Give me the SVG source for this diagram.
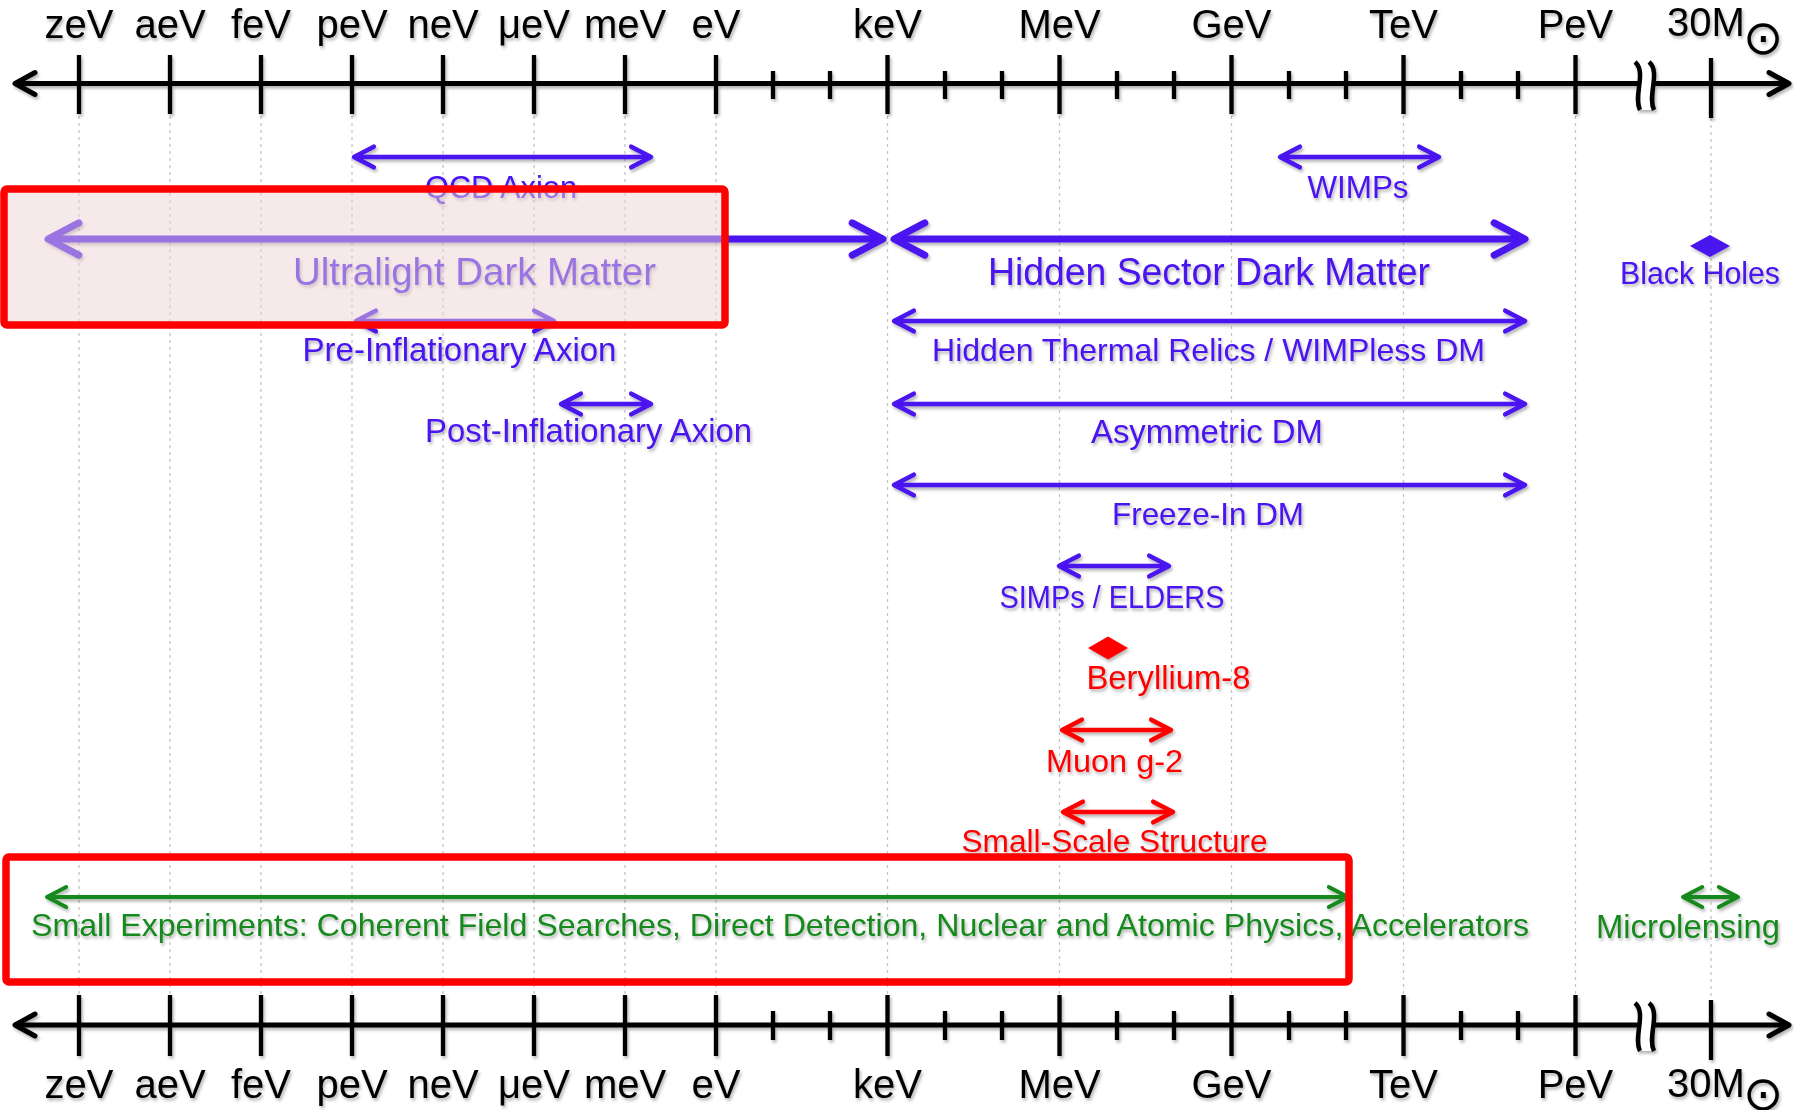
<svg xmlns="http://www.w3.org/2000/svg" width="1794" height="1110" viewBox="0 0 1794 1110">
<defs>
<style>
.grid{stroke:#c4c4c4;stroke-width:1.3;stroke-dasharray:3 4;fill:none}
.ax{stroke:#000;stroke-width:5;fill:none;marker-start:url(#hK);marker-end:url(#hK)}
.tk{stroke:#000;stroke-width:4.3;fill:none}
.brk{fill:none;stroke:#000;stroke-width:4.5}
.al{font-family:"Liberation Sans",Arial,sans-serif;font-size:40px;fill:#000;text-anchor:middle}
.sun{font-family:"DejaVu Sans",sans-serif;font-size:48px}
.t{font-family:"Liberation Sans",Arial,sans-serif;text-anchor:middle}
.tb{fill:#4a12f0}
.tr{fill:#ff0000}
.tg{fill:#17891f}
.aB{stroke:#4a12f0;stroke-width:4.5;fill:none;marker-start:url(#hB);marker-end:url(#hB)}
.aBT{stroke:#4a12f0;stroke-width:7;fill:none;marker-start:url(#hB);marker-end:url(#hB)}
.aR{stroke:#ff0000;stroke-width:4.5;fill:none;marker-start:url(#hR);marker-end:url(#hR)}
.aG{stroke:#17891f;stroke-width:4;fill:none;marker-start:url(#hG);marker-end:url(#hG)}
.sh{filter:url(#shadow)}
.box{stroke:#ff0000;stroke-width:7.5;}
</style>
<filter id="shadow" x="-5%" y="-30%" width="110%" height="170%">
<feDropShadow dx="1.5" dy="2.5" stdDeviation="1.5" flood-color="#000" flood-opacity="0.3"/>
</filter>
<marker id="hB" viewBox="-6 -4 8 8" refX="0" refY="0" markerWidth="8" markerHeight="8" markerUnits="strokeWidth" orient="auto-start-reverse"><path d="M-4.4,-2.3 L0,0 L-4.4,2.3" fill="none" stroke="#4a12f0" stroke-width="1" stroke-linecap="round" stroke-linejoin="round"/></marker>
<marker id="hR" viewBox="-6 -4 8 8" refX="0" refY="0" markerWidth="8" markerHeight="8" markerUnits="strokeWidth" orient="auto-start-reverse"><path d="M-4.4,-2.3 L0,0 L-4.4,2.3" fill="none" stroke="#ff0000" stroke-width="1" stroke-linecap="round" stroke-linejoin="round"/></marker>
<marker id="hG" viewBox="-6 -4 8 8" refX="0" refY="0" markerWidth="8" markerHeight="8" markerUnits="strokeWidth" orient="auto-start-reverse"><path d="M-4.8,-2.5 L0,0 L-4.8,2.5" fill="none" stroke="#17891f" stroke-width="1" stroke-linecap="round" stroke-linejoin="round"/></marker>
<marker id="hK" viewBox="-6 -4 8 8" refX="0" refY="0" markerWidth="8" markerHeight="8" markerUnits="strokeWidth" orient="auto-start-reverse"><path d="M-4,-2.2 L0,0 L-4,2.2" fill="none" stroke="#000" stroke-width="1" stroke-linecap="round" stroke-linejoin="round"/></marker>
</defs>
<rect width="1794" height="1110" fill="#fff"/>

<g id="grid">
<path class="grid" d="M79,116V995M170,116V995M261,116V995M352,116V995M443,116V995M534,116V995M625,116V995M716,116V995M887.5,116V995M1059.5,116V995M1231.5,116V995M1403.5,116V995M1575.5,116V995M1711,118V998"/>
</g>

<g id="axis-top" class="sh">
<line class="ax" x1="15" y1="83.5" x2="1789" y2="83.5"/>
<path class="tk" d="M79,55V114M170,55V114M261,55V114M352,55V114M443,55V114M534,55V114M625,55V114M716,55V114M887.5,55V114M1059.5,55V114M1231.5,55V114M1403.5,55V114M1575.5,55V114M1711,58V118"/>
<path class="tk" d="M773,71V99M830,71V99M945,71V99M1002,71V99M1117,71V99M1174,71V99M1289,71V99M1346,71V99M1461,71V99M1518,71V99"/>
<path d="M1635,62 C1647,72 1633,96 1640,110 L1654,110 C1647,96 1661,72 1649,62 Z" fill="#fff" stroke="none"/>
<path class="brk" d="M1635,62 C1647,72 1633,96 1640,110 M1649,62 C1661,72 1647,96 1654,110"/>
<g class="al">
<text x="79" y="38">zeV</text><text x="170" y="38">aeV</text><text x="261" y="38">feV</text><text x="352" y="38">peV</text><text x="443" y="38">neV</text><text x="534" y="38">μeV</text><text x="625" y="38">meV</text><text x="716" y="38">eV</text><text x="887.5" y="38">keV</text><text x="1059.5" y="38">MeV</text><text x="1231.5" y="38">GeV</text><text x="1403.5" y="38">TeV</text><text x="1575.5" y="38">PeV</text>
<text x="1706" y="36">30M<tspan class="sun" x="1763" y="54">⊙</tspan></text>
</g>
</g>

<g id="axis-bottom" class="sh">
<line class="ax" x1="15" y1="1025" x2="1789" y2="1025"/>
<path class="tk" d="M79,995V1056M170,995V1056M261,995V1056M352,995V1056M443,995V1056M534,995V1056M625,995V1056M716,995V1056M887.5,995V1056M1059.5,995V1056M1231.5,995V1056M1403.5,995V1056M1575.5,995V1056M1711,1000V1060"/>
<path class="tk" d="M773,1011V1040M830,1011V1040M945,1011V1040M1002,1011V1040M1117,1011V1040M1174,1011V1040M1289,1011V1040M1346,1011V1040M1461,1011V1040M1518,1011V1040"/>
<path d="M1635,1003 C1647,1013 1633,1037 1640,1051 L1654,1051 C1647,1037 1661,1013 1649,1003 Z" fill="#fff" stroke="none"/>
<path class="brk" d="M1635,1003 C1647,1013 1633,1037 1640,1051 M1649,1003 C1661,1013 1647,1037 1654,1051"/>
<g class="al">
<text x="79" y="1098">zeV</text><text x="170" y="1098">aeV</text><text x="261" y="1098">feV</text><text x="352" y="1098">peV</text><text x="443" y="1098">neV</text><text x="534" y="1098">μeV</text><text x="625" y="1098">meV</text><text x="716" y="1098">eV</text><text x="887.5" y="1098">keV</text><text x="1059.5" y="1098">MeV</text><text x="1231.5" y="1098">GeV</text><text x="1403.5" y="1098">TeV</text><text x="1575.5" y="1098">PeV</text>
<text x="1706" y="1097">30M<tspan class="sun" x="1763" y="1110">⊙</tspan></text>
</g>
</g>

<g id="connectors" class="sh">
<line class="aB" x1="354" y1="157" x2="651" y2="157"/>
<line class="aB" x1="1280" y1="157" x2="1439" y2="157"/>
<line class="aBT" x1="48" y1="239" x2="883" y2="239"/>
<line class="aBT" x1="894" y1="239" x2="1525" y2="239"/>
<line class="aB" x1="356" y1="321" x2="554" y2="321"/>
<line class="aB" x1="894" y1="321" x2="1525" y2="321"/>
<line class="aB" x1="561" y1="404" x2="651" y2="404"/>
<line class="aB" x1="894" y1="404" x2="1525" y2="404"/>
<line class="aB" x1="894" y1="485" x2="1525" y2="485"/>
<line class="aB" x1="1059" y1="566" x2="1169" y2="566"/>
<line class="aR" x1="1062" y1="730" x2="1171" y2="730"/>
<line class="aR" x1="1063" y1="812" x2="1173" y2="812"/>
<line class="aG" x1="47" y1="897" x2="1348" y2="897"/>
<line class="aG" x1="1683" y1="897" x2="1738" y2="897"/>
</g>

<g id="labels" class="t sh">
<g id="qcd-axion"><text class="tb" x="501" y="198" font-size="30.5" textLength="152" lengthAdjust="spacingAndGlyphs">QCD Axion</text></g>
<g id="wimps"><text class="tb" x="1358" y="198" font-size="31" textLength="101" lengthAdjust="spacingAndGlyphs">WIMPs</text></g>
<g id="uldm"><text class="tb" x="474.5" y="285" font-size="38" textLength="363" lengthAdjust="spacingAndGlyphs">Ultralight Dark Matter</text></g>
<g id="hsdm"><text class="tb" x="1209" y="285" font-size="38" textLength="442" lengthAdjust="spacingAndGlyphs">Hidden Sector Dark Matter</text></g>
<g id="black-holes"><polygon points="1690,246 1710,235 1730,246 1710,257" fill="#4a12f0"/><text class="tb" x="1700" y="284" font-size="31" textLength="160" lengthAdjust="spacingAndGlyphs">Black Holes</text></g>
<g id="pre-inflationary"><text class="tb" x="459.5" y="361" font-size="32.5" textLength="314" lengthAdjust="spacingAndGlyphs">Pre-Inflationary Axion</text></g>
<g id="hidden-thermal"><text class="tb" x="1208.5" y="361" font-size="32" textLength="553" lengthAdjust="spacingAndGlyphs">Hidden Thermal Relics / WIMPless DM</text></g>
<g id="post-inflationary"><text class="tb" x="588.5" y="442" font-size="32.5" textLength="327" lengthAdjust="spacingAndGlyphs">Post-Inflationary Axion</text></g>
<g id="asymmetric"><text class="tb" x="1207" y="443" font-size="32.5" textLength="232" lengthAdjust="spacingAndGlyphs">Asymmetric DM</text></g>
<g id="freeze-in"><text class="tb" x="1208" y="525" font-size="31.5" textLength="192" lengthAdjust="spacingAndGlyphs">Freeze-In DM</text></g>
<g id="simps"><text class="tb" x="1112" y="608" font-size="30.5" textLength="225" lengthAdjust="spacingAndGlyphs">SIMPs / ELDERS</text></g>
<g id="beryllium"><polygon points="1088,648 1108,636.5 1128,648 1108,659.5" fill="#ff0000"/><text class="tr" x="1168.5" y="689" font-size="32.5" textLength="164" lengthAdjust="spacingAndGlyphs">Beryllium-8</text></g>
<g id="muon"><text class="tr" x="1114.5" y="772" font-size="32" textLength="137" lengthAdjust="spacingAndGlyphs">Muon g-2</text></g>
<g id="small-scale"><text class="tr" x="1114.5" y="852" font-size="31" textLength="306" lengthAdjust="spacingAndGlyphs">Small-Scale Structure</text></g>
<g id="small-experiments"><text class="tg" x="31" y="936" font-size="32" textLength="1498" lengthAdjust="spacingAndGlyphs" style="text-anchor:start">Small Experiments: Coherent Field Searches, Direct Detection, Nuclear and Atomic Physics, Accelerators</text></g>
<g id="microlensing"><text class="tg" x="1688" y="938" font-size="32.5" textLength="184" lengthAdjust="spacingAndGlyphs">Microlensing</text></g>
</g>

<g id="highlight-boxes">
<rect id="box-ultralight" class="box" x="4" y="189" width="721" height="136" rx="3" fill="rgb(235,212,212)" fill-opacity="0.5"/>
<rect id="box-small-experiments" class="box" x="6" y="857" width="1343" height="125" rx="3" fill="none"/>
</g>
</svg>
